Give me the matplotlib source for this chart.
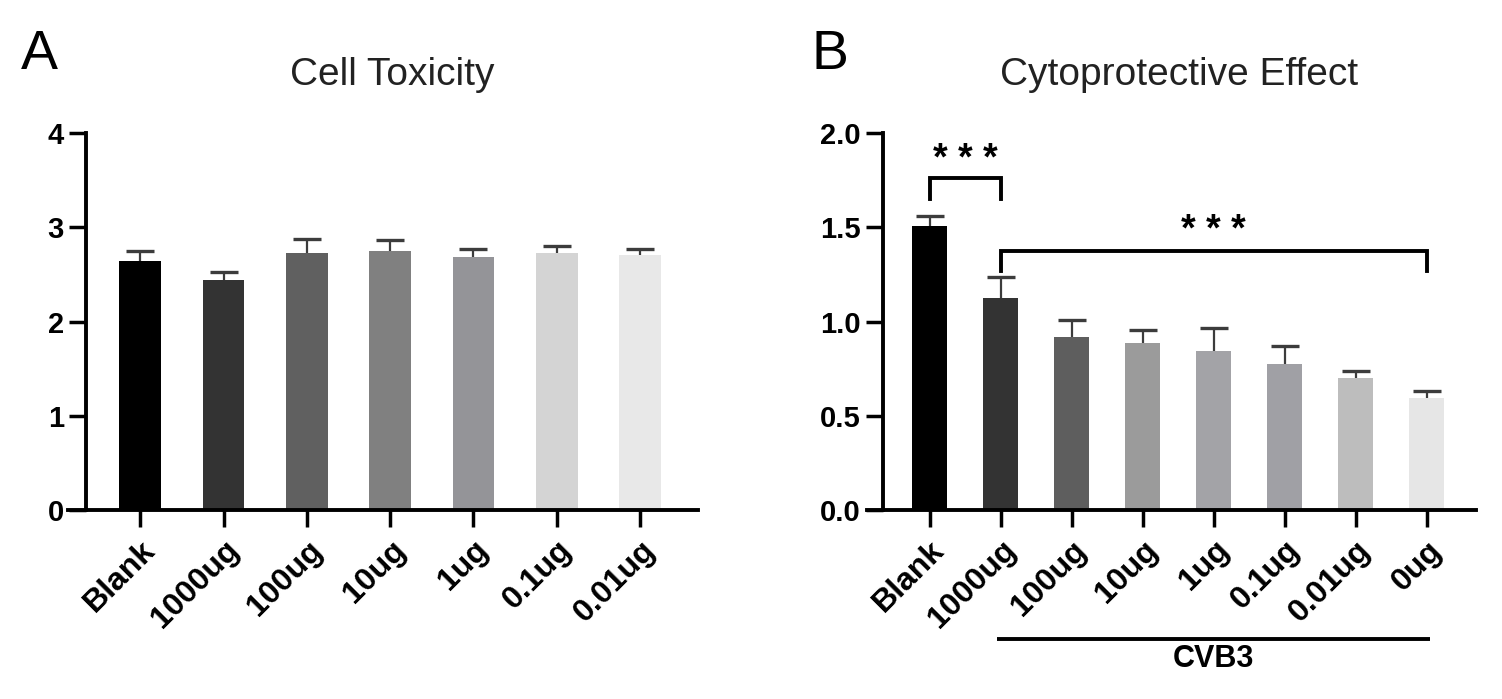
import numpy as np
import matplotlib
matplotlib.use("Agg")
import matplotlib.pyplot as plt

plt.rcParams["font.family"] = ["Liberation Sans", "DejaVu Sans"]

# --- panel A: cell toxicity -------------------------------------------------
tox_labels = ["Blank", "1000ug", "100ug", "10ug", "1ug", "0.1ug", "0.01ug"]
tox_mean = [2.64, 2.44, 2.73, 2.75, 2.69, 2.73, 2.71]
tox_err = [0.11, 0.085, 0.145, 0.115, 0.078, 0.077, 0.066]
tox_colors = ["#000000", "#333333", "#606060", "#808080", "#949498", "#d4d4d4", "#e8e8e8"]

# --- panel B: cytoprotective effect ------------------------------------------
cyto_labels = ["Blank", "1000ug", "100ug", "10ug", "1ug", "0.1ug", "0.01ug", "0ug"]
cyto_mean = [1.508, 1.126, 0.918, 0.887, 0.844, 0.775, 0.701, 0.595]
cyto_err = [0.053, 0.111, 0.091, 0.069, 0.122, 0.097, 0.039, 0.037]
cyto_colors = ["#000000", "#333333", "#5e5e5e", "#9b9b9b", "#a3a3a7", "#a0a0a5", "#bdbdbd", "#e6e6e6"]

W, H = 1502, 699
LW = 2.8
fig = plt.figure(figsize=(W / 100, H / 100), dpi=100)


def px_axes(x0, x1, y0, y1):
    return fig.add_axes([x0 / W, 1 - y0 / H, (x1 - x0) / W, (y0 - y1) / H])


def style(ax, x, labels, ylim, yticks, yfmt, xlim, yspine):
    ax.set_xlim(*xlim)
    ax.set_ylim(*ylim)
    for s in ("top", "right"):
        ax.spines[s].set_visible(False)
    ax.spines["left"].set_position(("data", yspine))
    ax.spines["left"].set_bounds(ylim[0], ylim[1])
    for s in ("left", "bottom"):
        ax.spines[s].set_linewidth(LW)
    ax.set_yticks(yticks, [yfmt.format(v) for v in yticks],
                  fontsize=21, fontweight="bold")
    ax.set_xticks(x, labels, rotation=45, ha="right", rotation_mode="anchor",
                  fontsize=23, fontweight="bold")
    ax.tick_params(axis="both", length=12, width=2.5, pad=4)
    ax.tick_params(axis="x", pad=6)


def bars(ax, x, mean, err, colors):
    ax.bar(x, mean, width=0.5, color=colors, zorder=2)
    eb = ax.errorbar(x, mean, yerr=[np.zeros(len(err)), err], fmt="none",
                     ecolor="#3c3c3c", elinewidth=1.6, capsize=10, capthick=2.4,
                     zorder=3)
    eb[1][0].set_visible(False)   # only the upper cap, GraphPad style


# panel A
axA = px_axes(68, 698, 510, 133.3)
xA = np.arange(len(tox_labels))
bars(axA, xA, tox_mean, tox_err, tox_colors)
style(axA, xA, tox_labels, (0, 4), [0, 1, 2, 3, 4], "{:.0f}",
      (-0.868, 6.696), -0.652)

# panel B
axB = px_axes(866.7, 1475.7, 510, 133.3)
xB = np.arange(len(cyto_labels))
bars(axB, xB, cyto_mean, cyto_err, cyto_colors)
style(axB, xB, cyto_labels, (0, 2), [0.0, 0.5, 1.0, 1.5, 2.0], "{:.1f}",
      (-0.885, 7.693), -0.655)


# significance brackets
def bracket(ax, x0, x1, ytop, yleg, ystar):
    ax.plot([x0, x0, x1, x1], [yleg, ytop, ytop, yleg], color="black",
            lw=LW, solid_joinstyle="miter", zorder=4)
    ax.text((x0 + x1) / 2, ystar, "* * *", ha="center", va="center",
            fontsize=27, fontweight="bold")


bracket(axB, 0, 1, 1.761, 1.650, 1.86)
bracket(axB, 1, 7, 1.377, 1.270, 1.48)

# CVB3 group line under the labels
axB.plot([0.95, 7.05], [-0.685, -0.685], color="black", lw=LW,
         clip_on=False, solid_capstyle="butt")
axB.text(4, -0.79, "CVB3", ha="center", va="center", fontsize=22,
         fontweight="bold")

# titles centred between the y axis and the end of the x axis
fig.text((86 + 698) / 2 / W, 1 - 75 / H, "Cell Toxicity", ha="center",
         va="center", fontsize=28, color="#222222")
fig.text((883 + 1475.7) / 2 / W, 1 - 75 / H, "Cytoprotective Effect",
         ha="center", va="center", fontsize=28, color="#222222")

fig.text(39 / W, 1 - 55 / H, "A", ha="center", va="center", fontsize=40)
fig.text(830 / W, 1 - 55 / H, "B", ha="center", va="center", fontsize=40)

fig.savefig("out.png", dpi=100)
